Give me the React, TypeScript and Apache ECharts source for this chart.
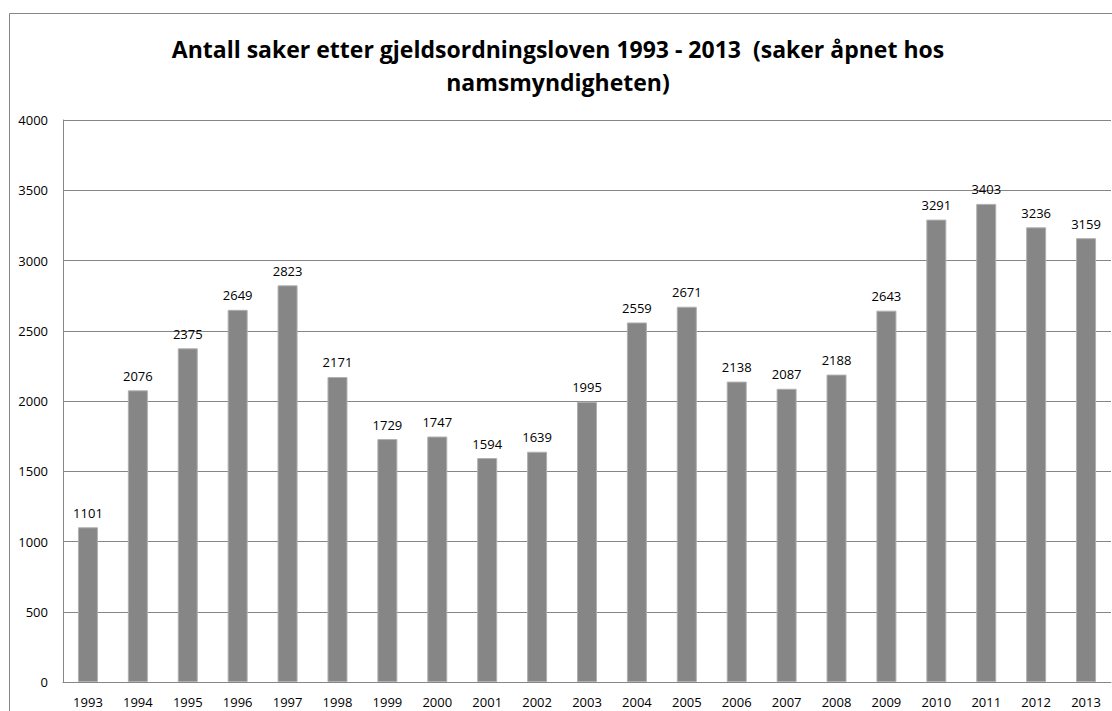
import React, { useEffect, useRef } from "react";
import * as echarts from "echarts";

const years = ["1993","1994","1995","1996","1997","1998","1999","2000","2001","2002","2003","2004","2005","2006","2007","2008","2009","2010","2011","2012","2013"];
const cases = [1101,2076,2375,2649,2823,2171,1729,1747,1594,1639,1995,2559,2671,2138,2087,2188,2643,3291,3403,3236,3159];
const titleLines = ["Antall saker etter gjeldsordningsloven 1993 - 2013  (saker åpnet hos", "namsmyndigheten)"];

export default function App() {
  const ref = useRef<HTMLDivElement>(null);
  useEffect(() => {
    const chart = echarts.init(ref.current!, null, { renderer: "svg" });
    const font = "'Open Sans', 'Liberation Sans', sans-serif";
    chart.setOption({
      animation: false,
      backgroundColor: "#ffffff",
      title: {
        text: titleLines.join("\n"),
        left: 553,
        top: 27,
        textAlign: "center",
        textStyle: { fontFamily: font, fontSize: 23, fontWeight: "bold", color: "#000", lineHeight: 33 },
      },
      graphic: [
        { type: "line", shape: { x1: 9.5, y1: 13.5, x2: 1112, y2: 13.5 }, style: { stroke: "#868686", lineWidth: 1 } },
        { type: "line", shape: { x1: 9.5, y1: 13.5, x2: 9.5, y2: 711 }, style: { stroke: "#868686", lineWidth: 1 } },
      ],
      grid: { left: 63, right: 1, top: 120, bottom: 29, containLabel: false },
      xAxis: {
        type: "category",
        data: years,
        axisLine: { lineStyle: { color: "#868686" } },
        axisTick: { show: false },
        axisLabel: { fontFamily: font, fontSize: 13, color: "#000", margin: 13, interval: 0 },
      },
      yAxis: {
        type: "value",
        min: 0,
        max: 4000,
        interval: 500,
        axisLine: { show: true, lineStyle: { color: "#868686" } },
        axisTick: { show: false },
        splitLine: { lineStyle: { color: "#868686" } },
        axisLabel: { fontFamily: font, fontSize: 13, color: "#000", margin: 15, formatter: (v: number) => String(v) },
      },
      series: [
        {
          type: "bar",
          data: cases,
          barWidth: 20,
          itemStyle: { color: "#868686", borderColor: "#b0b0b0", borderWidth: 1 },
          label: { show: true, position: "top", distance: 8, fontFamily: font, fontSize: 13, color: "#000" },
        },
      ],
    });
    return () => chart.dispose();
  }, []);
  return <div ref={ref} style={{ position: "absolute", left: 0, top: 0, width: 1112, height: 711 }} />;
}
